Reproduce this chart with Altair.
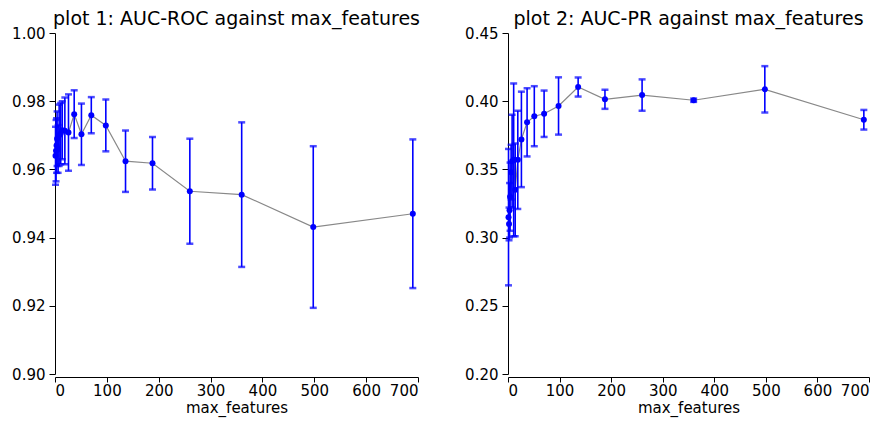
import altair as alt
import pandas as pd

max_features = [1, 2, 3, 4, 6, 8, 11, 14, 19, 26, 37, 51, 70, 98, 136, 188, 260, 360, 498, 690]

roc_mean = [0.9640, 0.9655, 0.9670, 0.9690, 0.9660, 0.9700, 0.9705, 0.9715, 0.9713, 0.9708,
            0.9762, 0.9703, 0.9759, 0.9729, 0.9624, 0.9618, 0.9536, 0.9526, 0.9431, 0.9470]
roc_err = [0.0085, 0.0090, 0.0080, 0.0080, 0.0070, 0.0090, 0.0090, 0.0085, 0.0098, 0.0112,
           0.0070, 0.0090, 0.0053, 0.0076, 0.0090, 0.0077, 0.0154, 0.0212, 0.0237, 0.0218]

pr_mean = [0.3150, 0.3100, 0.3200, 0.3300, 0.3480, 0.3560, 0.3570, 0.3350, 0.3570, 0.3720,
           0.3845, 0.3890, 0.3908, 0.3965, 0.4104, 0.4014, 0.4045, 0.4007, 0.4087, 0.3864]
pr_err = [0.0500, 0.0120, 0.0200, 0.0250, 0.0200, 0.0340, 0.0560, 0.0340, 0.0360, 0.0350,
          0.0250, 0.0220, 0.0170, 0.0210, 0.0070, 0.0070, 0.0115, 0.0012, 0.0170, 0.0072]

FONT = "DejaVu Sans"


def panel(mean, err, title, ydom, yticks, width):
    df = pd.DataFrame({
        "x": max_features,
        "m": mean,
        "lo": [a - b for a, b in zip(mean, err)],
        "hi": [a + b for a, b in zip(mean, err)],
    })
    xs = alt.Scale(domain=[0, 700], nice=False, zero=False)
    ys = alt.Scale(domain=ydom, nice=False, zero=False)
    xax = alt.Axis(values=list(range(0, 701, 100)), title="max_features", grid=False,
                   offset=3, domainColor="black", tickColor="black", labelColor="black",
                   labelFontSize=15, titleFontSize=15, titleFontWeight="normal",
                   labelFont=FONT, titleFont=FONT, titleColor="black", tickSize=5,
                   labelPadding=1, titlePadding=2)
    yax = alt.Axis(values=yticks, format=".2f", title=None, grid=False,
                   domainColor="black", tickColor="black", labelColor="black",
                   labelFontSize=15, labelFont=FONT, tickSize=6, labelPadding=4)
    base = alt.Chart(df)
    line = base.mark_line(color="#888888", strokeWidth=1.2).encode(
        x=alt.X("x:Q", scale=xs, axis=xax), y=alt.Y("m:Q", scale=ys, axis=yax))
    rule = base.mark_rule(color="#0000ff", strokeWidth=1.6).encode(
        x=alt.X("x:Q", scale=xs), y=alt.Y("lo:Q", scale=ys), y2="hi:Q")
    cap_lo = base.mark_tick(color="#0000ff", orient="horizontal", size=7, thickness=2.5).encode(
        x=alt.X("x:Q", scale=xs), y=alt.Y("lo:Q", scale=ys))
    cap_hi = base.mark_tick(color="#0000ff", orient="horizontal", size=7, thickness=2.5).encode(
        x=alt.X("x:Q", scale=xs), y=alt.Y("hi:Q", scale=ys))
    pts = base.mark_circle(color="#0000ff", size=36, opacity=1).encode(
        x=alt.X("x:Q", scale=xs), y=alt.Y("m:Q", scale=ys))
    return alt.layer(line, rule, cap_lo, cap_hi, pts).properties(
        width=width, height=341,
        title=alt.TitleParams(title, fontSize=19, fontWeight="normal", font=FONT,
                              color="black", anchor="middle", offset=-3))


p1 = panel(roc_mean, roc_err, "plot 1: AUC-ROC against max_features", [0.90, 1.00],
           [0.90, 0.92, 0.94, 0.96, 0.98, 1.00], 363)
p2 = panel(pr_mean, pr_err, "plot 2: AUC-PR against max_features", [0.20, 0.45],
           [0.20, 0.25, 0.30, 0.35, 0.40, 0.45], 361)

chart = alt.hconcat(p1, p2, spacing=44).configure(
    background="white", padding={"left": 3, "top": 2, "right": 0, "bottom": 6}
).configure_view(stroke=None)

chart.save("out.html", embed_options={"renderer": "svg", "actions": False})
